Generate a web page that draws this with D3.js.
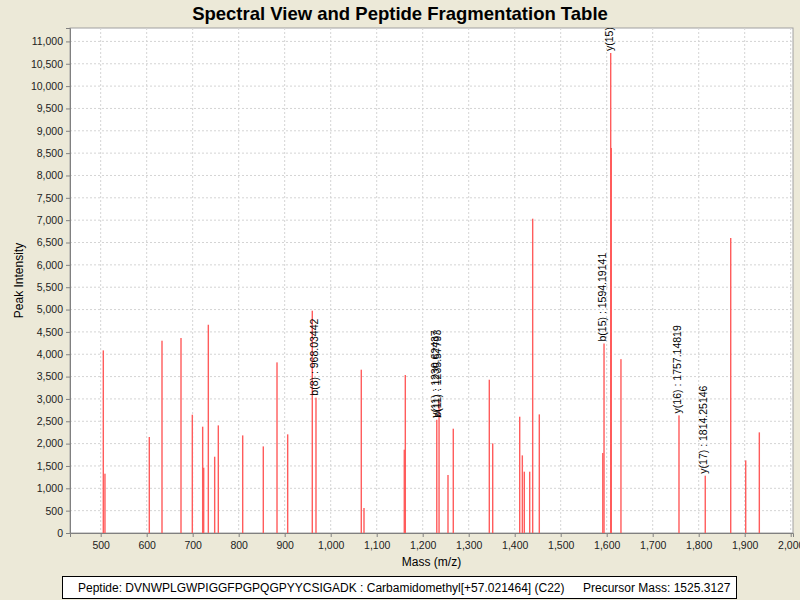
<!DOCTYPE html>
<html>
<head>
<meta charset="utf-8">
<script src="https://cdn.jsdelivr.net/npm/d3@7"></script>
<style>
  body { margin: 0; background: #ece9d8; }
  text { font-family: "Liberation Sans", Arial, sans-serif; }
</style>
</head>
<body>
<div id="chart"></div>
<script>
// peak list (m/z and intensity)
const masses = [505.7, 509.3, 605.7, 633.3, 674.6, 699.2, 721.7, 723.9, 734.0, 747.8,
  755.7, 808.7, 853.5, 883.3, 906.5, 960.0, 968.03, 1066.5, 1072.4, 1160.0,
  1162.2, 1230.62, 1235.58, 1255.0, 1266.5, 1344.8, 1352.2, 1410.9, 1416.6, 1420.9,
  1432.6, 1439.1, 1453.5, 1591.5, 1594.19, 1608.7, 1610.0, 1631.0, 1757.15, 1814.25,
  1869.6, 1902.2, 1931.8];
const intensities = [4086, 1327, 2148, 4303, 4363, 2647, 2379, 1461, 4660, 1707,
  2408, 2184, 1938, 3818, 2207, 4974, 3028, 3654, 559, 1864,
  3535, 2535, 2960, 1298, 2334, 3430, 2005, 2602, 1737, 1372,
  1372, 7033, 2654, 1790, 4240, 10741, 8615, 3890, 2632, 1282,
  6601, 1625, 2252];

// fragment annotations
const labelMasses = [968.03442, 1230.62437, 1230.62437, 1594.19141, 1608.7, 1757.14819, 1814.25146];
const labelHeights = [3028, 2535, 2535, 4240, 10741, 2632, 1282];
const labelTexts = ["b(8) : 968.03442", "y(11) : 1230.62437", "b(11) : 1235.57793",
  "b(15) : 1594.19141", "y(15) : 1608.73062", "y(16) : 1757.14819", "y(17) : 1814.25146"];

const xTicks = d3.range(500, 2001, 100);
const yTicks = d3.range(0, 11001, 500);

const peptideText = "Peptide: DVNWPLGWPIGGFPGPQGPYYCSIGADK : Carbamidomethyl[+57.021464] (C22)";
const precursorText = "Precursor Mass: 1525.3127";

const margin = {top: 28, right: 7, bottom: 67, left: 70},
    width = 800 - margin.left - margin.right,
    height = 600 - margin.top - margin.bottom;

const svg = d3.select("#chart")
  .append("svg")
  .attr("width", 800)
  .attr("height", 600);

svg.append("text")
  .attr("x", 400)
  .attr("y", 20)
  .attr("text-anchor", "middle")
  .style("font-size", "18.5px")
  .style("font-weight", "bold")
  .text("Spectral View and Peptide Fragmentation Table");

const g = svg.append("g")
  .attr("transform", `translate(${margin.left},${margin.top})`);

const x = d3.scaleLinear().domain([433.3, 2005]).range([0, width]);
const y = d3.scaleLinear().domain([0, 11300]).range([height, 0]);

g.append("rect")
  .attr("width", width)
  .attr("height", height)
  .attr("fill", "#fff")
  .attr("stroke", "#a0a0a0");

svg.append("clipPath").attr("id", "plotclip")
  .append("rect").attr("width", width).attr("height", height);

// grid
g.selectAll(".vgrid")
  .data(xTicks)
  .enter()
  .append("line")
  .attr("x1", d => x(d)).attr("x2", d => x(d))
  .attr("y1", 0).attr("y2", height)
  .attr("stroke", "#d4d4d4")
  .attr("stroke-dasharray", "2,2");

g.selectAll(".hgrid")
  .data(yTicks.filter(d => d > 0))
  .enter()
  .append("line")
  .attr("x1", 0).attr("x2", width)
  .attr("y1", d => y(d)).attr("y2", d => y(d))
  .attr("stroke", "#d4d4d4")
  .attr("stroke-dasharray", "2,2");

// peaks
const peaks = masses.map((m, i) => ({m: m, v: intensities[i]}));
g.append("g")
  .attr("clip-path", "url(#plotclip)")
  .selectAll("rect")
  .data(peaks)
  .enter()
  .append("rect")
  .attr("x", d => x(d.m) - 0.7)
  .attr("y", d => y(d.v))
  .attr("width", 1.4)
  .attr("height", d => height - y(d.v))
  .attr("fill", "#ff5c5c");

// annotations
const labels = labelTexts.map((t, i) => ({t: t, m: labelMasses[i], v: labelHeights[i]}));
g.append("g")
  .attr("clip-path", "url(#plotclip)")
  .selectAll("text")
  .data(labels)
  .enter()
  .append("text")
  .attr("transform", (d, i) => `translate(${x(d.m) + 2 + (i === 2 ? 2 : 0)},${y(d.v) - 2}) rotate(-90)`)
  .style("font-size", "10.5px")
  .attr("fill", "#000")
  .text(d => d.t);

// axes
const xAxis = g.append("g")
  .attr("transform", `translate(0,${height})`)
  .call(d3.axisBottom(x).tickValues(xTicks).tickSize(4).tickFormat(d3.format(",")));

const yAxis = g.append("g")
  .call(d3.axisLeft(y).tickValues(yTicks).tickSize(4).tickFormat(d3.format(",")));

[xAxis, yAxis].forEach(a => {
  a.select(".domain").attr("stroke", "#808080");
  a.selectAll(".tick line").attr("stroke", "#808080");
  a.selectAll(".tick text")
    .style("font-family", "'Liberation Sans', Arial, sans-serif")
    .style("font-size", "10.5px")
    .attr("fill", "#222");
});
xAxis.selectAll(".tick text").attr("dy", "0.9em");

svg.append("text")
  .attr("x", margin.left + width / 2)
  .attr("y", 566)
  .attr("text-anchor", "middle")
  .style("font-size", "12px")
  .text("Mass (m/z)");

svg.append("text")
  .attr("transform", `translate(23,${margin.top + height / 2}) rotate(-90)`)
  .attr("text-anchor", "middle")
  .style("font-size", "12px")
  .text("Peak Intensity");

// peptide info box
svg.append("rect")
  .attr("x", 62.5).attr("y", 576.5)
  .attr("width", 674).attr("height", 22)
  .attr("fill", "#fff")
  .attr("stroke", "#000");

svg.append("text")
  .attr("x", 78).attr("y", 592)
  .style("font-size", "12px")
  .text(peptideText);

svg.append("text")
  .attr("x", 583).attr("y", 592)
  .style("font-size", "12px")
  .text(precursorText);
</script>
</body>
</html>
